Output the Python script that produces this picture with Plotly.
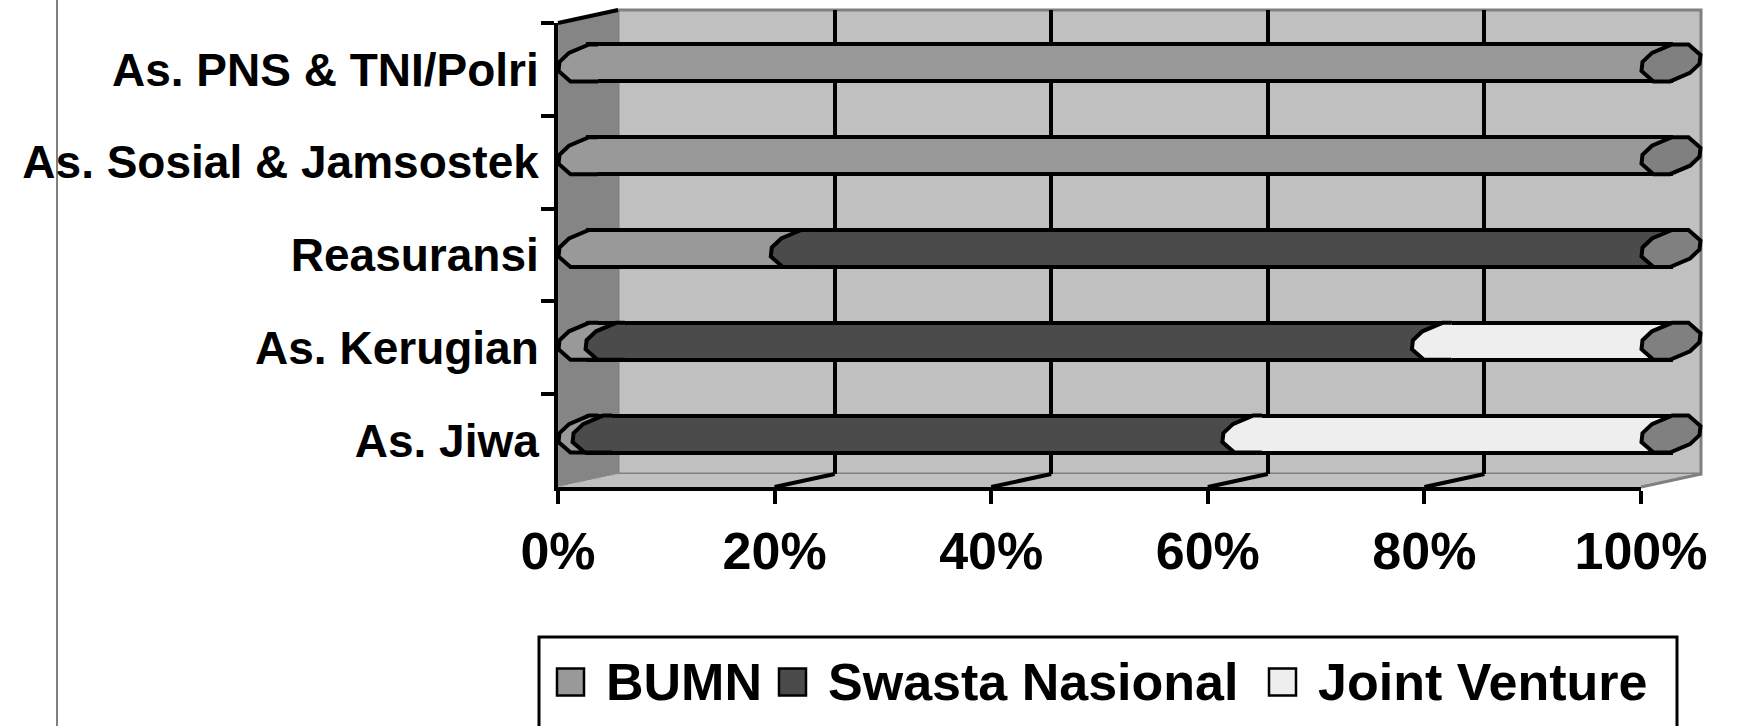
import plotly.graph_objects as go

# ---------------- data ----------------
categories = ["As. Jiwa", "As. Kerugian", "Reasuransi",
              "As. Sosial & Jamsostek", "As. PNS & TNI/Polri"]
series_names = ["BUMN", "Swasta Nasional", "Joint Venture"]
bumn = [1.3, 2.5, 19.6, 100.0, 100.0]
swasta_nasional = [60.0, 76.3, 80.4, 0.0, 0.0]
joint_venture = [38.7, 21.2, 0.0, 0.0, 0.0]
x_tick_values = [0, 20, 40, 60, 80, 100]
x_tick_labels = ["0%", "20%", "40%", "60%", "80%", "100%"]

series_values = [bumn, swasta_nasional, joint_venture]

# ---------------- style ----------------
series_colors = ["#999999", "#4b4b4b", "#eeeeee"]
END_CAP_COLOR = "#808080"
WALL_COLOR = "#c0c0c0"
SIDE_COLOR = "#858585"
BORDER_GRAY = "#808080"
FONT = "Liberation Sans, Arial, sans-serif"
LW = 4

W, H = 1739, 726
FX0, FX1, FY0, FY1 = 558, 1641, 23, 487      # front plane (axes)
DX, DY = 60, -13                              # depth offset to the back wall
BX0, BX1, BY0, BY1 = FX0 + DX, FX1 + DX, FY0 + DY, FY1 + DY
MX0, MX1, MY0, MY1 = FX0 + DX / 2, FX1 + DX / 2, FY0 + DY / 2, FY1 + DY / 2
PAD_PX = DX / 2 + 4


def px(x):
    return x / W


def py(y):
    return 1 - y / H


ncat = len(categories)
ppx = (MX1 - MX0) / 100.0          # pixels per percent on bar plane
ppc = (MY1 - MY0) / ncat           # pixels per category band
pad = PAD_PX / ppx
BAR_HALF = 18.5
bar_width = 2 * BAR_HALF / ppc

# octagonal cap outline (pixel offsets, y downward), left half top->bottom
LEFT_CURVE = [(1, -18.5), (-19, -10), (-28.5, -1), (-29.5, 8), (-17.5, 18.5)]
OCTAGON = LEFT_CURVE + [(-a, -b) for a, b in LEFT_CURVE]


def to_data(cx, cy, pts):
    return [(cx + a / ppx, cy - b / ppc) for a, b in pts]


def path_of(pts, close):
    s = "M " + " L ".join(f"{x:.4f},{y:.4f}" for x, y in pts)
    return s + (" Z" if close else "")


fig = go.Figure()

# back-wall subplot (gridlines)
fig.add_trace(go.Scatter(x=[0], y=[0], xaxis="x", yaxis="y", mode="markers",
                         marker=dict(opacity=0), hoverinfo="skip", showlegend=False))

# bars on the mid-depth plane
for name, vals, color in zip(series_names, series_values, series_colors):
    fig.add_trace(go.Bar(
        y=categories, x=vals, orientation="h", name=name,
        xaxis="x2", yaxis="y2", width=bar_width,
        marker=dict(color=color, line=dict(color="black", width=LW)),
        showlegend=False,
        hovertemplate="%{y}<br>" + name + ": %{x:.1f}%<extra></extra>",
    ))

# front axes subplot
fig.add_trace(go.Scatter(x=[0] * ncat, y=categories, xaxis="x3", yaxis="y3",
                         mode="markers", marker=dict(opacity=0),
                         hoverinfo="skip", showlegend=False))

shapes = []
# --- 3D box decorations (paper coordinates, below everything)
shapes.append(dict(type="rect", xref="paper", yref="paper", layer="below",
                   x0=px(BX0), x1=px(BX1), y0=py(BY1), y1=py(BY0),
                   fillcolor=WALL_COLOR, line=dict(color=BORDER_GRAY, width=3)))
shapes.append(dict(type="path", xref="paper", yref="paper", layer="below",
                   path=path_of([(px(FX0), py(FY0)), (px(BX0), py(BY0)),
                                 (px(BX0), py(BY1)), (px(FX0), py(FY1))], True),
                   fillcolor=SIDE_COLOR, line=dict(width=0)))
shapes.append(dict(type="path", xref="paper", yref="paper", layer="below",
                   path=path_of([(px(FX0), py(FY1)), (px(FX1), py(FY1)),
                                 (px(BX1), py(BY1)), (px(BX0), py(BY1))], True),
                   fillcolor=WALL_COLOR, line=dict(width=0)))
shapes.append(dict(type="line", xref="paper", yref="paper", layer="below",
                   x0=px(FX1), y0=py(FY1), x1=px(BX1), y1=py(BY1),
                   line=dict(color=BORDER_GRAY, width=3)))
shapes.append(dict(type="line", xref="paper", yref="paper", layer="below",
                   x0=px(FX0), y0=py(FY1), x1=px(BX0), y1=py(BY1),
                   line=dict(color="#a8a8a8", width=1, dash="dash")))
shapes.append(dict(type="line", xref="paper", yref="paper", layer="above",
                   x0=px(FX0), y0=py(FY0), x1=px(BX0), y1=py(BY0),
                   line=dict(color="black", width=LW)))
for v in x_tick_values[1:-1]:
    fxp = FX0 + v / 100.0 * (FX1 - FX0)
    shapes.append(dict(type="line", xref="paper", yref="paper", layer="below",
                       x0=px(fxp), y0=py(FY1), x1=px(fxp + DX), y1=py(BY1),
                       line=dict(color="black", width=LW)))
# left page rule
shapes.append(dict(type="line", xref="paper", yref="paper", layer="below",
                   x0=px(57), x1=px(57), y0=0, y1=1,
                   line=dict(color="#808080", width=2)))

# --- bar caps (data coordinates of the bar plane)
for i, cat in enumerate(categories):
    cum = 0.0
    for vals, color in zip(series_values, series_colors):
        v = vals[i]
        if v <= 0:
            continue
        fill_pts = to_data(cum, i, LEFT_CURVE + [(10, 18.5), (10, -18.5)])
        shapes.append(dict(type="path", xref="x2", yref="y2",
                           path=path_of(fill_pts, True),
                           fillcolor=color, line=dict(width=0)))
        line_pts = to_data(cum, i, [(10, -18.5)] + LEFT_CURVE + [(10, 18.5)])
        shapes.append(dict(type="path", xref="x2", yref="y2",
                           path=path_of(line_pts, False),
                           fillcolor="rgba(0,0,0,0)",
                           line=dict(color="black", width=LW)))
        cum += v
    shapes.append(dict(type="path", xref="x2", yref="y2",
                       path=path_of(to_data(cum, i, OCTAGON), True),
                       fillcolor=END_CAP_COLOR,
                       line=dict(color="black", width=LW)))

# --- legend box (drawn manually to match the large swatches)
shapes.append(dict(type="rect", xref="paper", yref="paper",
                   x0=px(539), x1=px(1677), y0=py(780), y1=py(637),
                   fillcolor="white", line=dict(color="black", width=3)))
legend_text_x = [604, 826, 1316]
LEG_Y = 682
SW = 27
annotations = []
for name, color, tx in zip(series_names, series_colors, legend_text_x):
    sx0 = tx - 47
    shapes.append(dict(type="rect", xref="paper", yref="paper",
                       x0=px(sx0), x1=px(sx0 + SW),
                       y0=py(LEG_Y + SW / 2), y1=py(LEG_Y - SW / 2),
                       fillcolor=color, line=dict(color="black", width=2.5)))
    annotations.append(dict(xref="paper", yref="paper", x=px(tx), y=py(LEG_Y),
                            xanchor="left", yanchor="middle", showarrow=False,
                            text=name,
                            font=dict(family=FONT, size=52, color="black",
                                      weight="bold")))

axis_font_x = dict(family=FONT, size=52, color="black", weight="bold")
axis_font_y = dict(family=FONT, size=46, color="black", weight="bold")

fig.update_layout(
    template="none",
    width=W, height=H,
    margin=dict(l=0, r=0, t=0, b=0),
    paper_bgcolor="white",
    plot_bgcolor="rgba(0,0,0,0)",
    barmode="stack",
    showlegend=False,
    font=dict(family=FONT, color="black"),
    shapes=shapes,
    annotations=annotations,
    xaxis=dict(domain=[px(BX0), px(BX1)], range=[0, 100], anchor="y",
               tickmode="array", tickvals=x_tick_values[1:-1],
               showticklabels=False, ticks="", showgrid=True,
               gridcolor="black", gridwidth=LW, zeroline=False,
               showline=False, fixedrange=True, automargin=False),
    yaxis=dict(domain=[py(BY1), py(BY0)], range=[0, 1], anchor="x",
               visible=False, fixedrange=True, automargin=False),
    xaxis2=dict(domain=[px(MX0 - PAD_PX), px(MX1 + PAD_PX)],
                range=[-pad, 100 + pad], anchor="y2", visible=False,
                fixedrange=True, automargin=False),
    yaxis2=dict(domain=[py(MY1), py(MY0)], type="category",
                categoryorder="array", categoryarray=categories,
                range=[-0.5, ncat - 0.5], anchor="x2", visible=False,
                fixedrange=True, automargin=False),
    xaxis3=dict(domain=[px(FX0), px(FX1)], range=[0, 100], anchor="y3",
                tickmode="array", tickvals=x_tick_values,
                ticktext=x_tick_labels, ticks="outside", ticklen=13,
                tickwidth=LW, tickcolor="black", showline=True,
                linecolor="black", linewidth=LW, showgrid=False,
                zeroline=False, tickfont=axis_font_x, ticklabelstandoff=3,
                fixedrange=True, automargin=False),
    yaxis3=dict(domain=[py(FY1), py(FY0)], type="category",
                categoryorder="array", categoryarray=categories,
                range=[-0.5, ncat - 0.5], anchor="x3", tickson="boundaries",
                ticks="outside", ticklen=13, tickwidth=LW, tickcolor="black",
                showline=True, linecolor="black", linewidth=LW,
                showgrid=False, zeroline=False, tickfont=axis_font_y,
                ticklabelstandoff=6, fixedrange=True, automargin=False),
)

fig.write_html("out.html",
               config={"displayModeBar": False},
               post_script="document.body.style.margin='0px';"
                           "document.body.style.overflow='hidden';")
